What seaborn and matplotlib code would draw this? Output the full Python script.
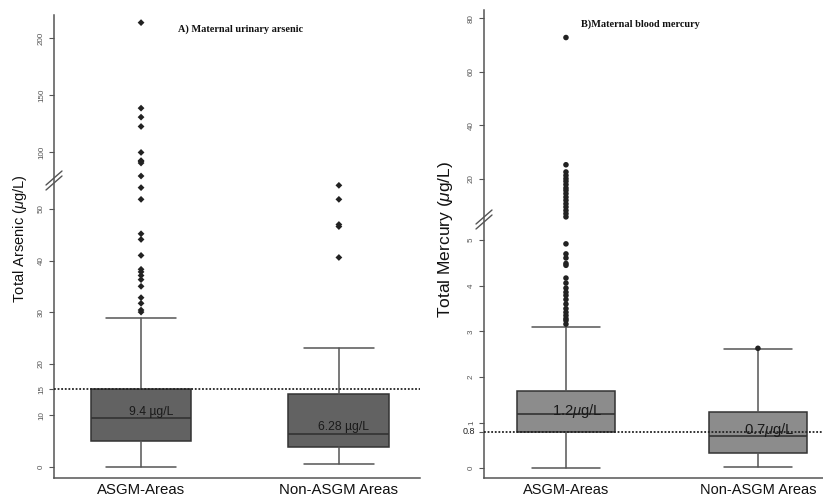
import numpy as np
import matplotlib
matplotlib.use("Agg")
import matplotlib.pyplot as plt
from matplotlib.lines import Line2D
import seaborn as sns

# ---- data -------------------------------------------------------------
groups = ["ASGM-Areas", "Non-ASGM Areas"]

# Panel A: maternal urinary arsenic (µg/L)
as_whislo = [0.0, 0.5]
as_q1 = [5.0, 3.9]
as_med = [9.4, 6.28]
as_q3 = [15.0, 14.1]
as_whishi = [28.9, 23.1]
as_out_asgm = [213.7, 138.6, 130.7, 122.5, 99.7, 92.5, 91.8, 90.4, 79.0,
               68.8, 58.5, 45.2, 44.1, 41.0, 38.3, 37.8, 37.1, 36.3, 35.0,
               32.8, 31.7, 30.4, 30.0]
as_out_non = [70.8, 58.5, 47.0, 46.6, 40.6]
as_ticks = [0, 10, 15, 20, 30, 40, 50, 100, 150, 200]
as_ref = 15
as_labels = ["9.4 µg/L", "6.28 µg/L"]

# Panel B: maternal blood mercury (µg/L)
hg_whislo = [0.0, 0.02]
hg_q1 = [0.79, 0.33]
hg_med = [1.2, 0.7]
hg_q3 = [1.70, 1.24]
hg_whishi = [3.1, 2.62]
hg_out_asgm = [72.8, 25.2, 22.5, 21.2, 20.0, 19.0, 17.8, 16.5, 15.6, 14.4,
               13.1, 11.9, 10.6, 9.4, 8.1, 6.9, 5.7, 4.92, 4.70, 4.61, 4.49,
               4.45, 4.17, 4.06, 3.95, 3.86, 3.79, 3.70, 3.60, 3.50, 3.42,
               3.35, 3.28, 3.24, 3.16]
hg_out_non = [2.63]
hg_ticks = [0, 0.8, 1, 2, 3, 4, 5, 20, 40, 60, 80]
hg_ref = 0.8
hg_labels = [r"1.2$\mu$g/L", r"0.7$\mu$g/L"]

# ---- style ------------------------------------------------------------
sns.set_theme(style="white")
plt.rcParams["font.family"] = ["Liberation Sans", "DejaVu Sans"]
plt.rcParams["mathtext.fontset"] = "custom"
plt.rcParams["mathtext.it"] = "Liberation Sans:italic"
plt.rcParams["mathtext.rm"] = "Liberation Sans"

AXIS_GREY = "#555555"


def broken_scale(knee, ratio):
    """Piecewise-linear y scale: compressed above `knee`."""
    def fwd(v):
        v = np.asarray(v, dtype=float)
        return np.where(v <= knee, v, knee + (v - knee) * ratio)

    def inv(t):
        t = np.asarray(t, dtype=float)
        return np.where(t <= knee, t, knee + (t - knee) / ratio)
    return fwd, inv


def draw_panel(ax, stats, fliers, color, marker, msize, ref, ticks,
               med_labels, label_pos, label_size, title, title_x, ylabel,
               ylabel_size):
    ax.bxp(stats, positions=[0, 1], widths=0.51, capwidths=0.35,
           patch_artist=True, showfliers=False,
           boxprops=dict(facecolor=color, edgecolor="#333333", linewidth=1.1),
           medianprops=dict(color="#333333", linewidth=1.2),
           whiskerprops=dict(color=AXIS_GREY, linewidth=1.1),
           capprops=dict(color=AXIS_GREY, linewidth=1.1))
    for pos, vals in enumerate(fliers):
        sns.scatterplot(x=[pos] * len(vals), y=vals, ax=ax, marker=marker,
                        s=msize, color="#222222", edgecolor="none",
                        legend=False, zorder=4)
    ax.axhline(ref, color="#222222", linestyle=(0, (1, 1)), linewidth=1.3,
               zorder=5)
    for (x, y), txt in zip(label_pos, med_labels):
        ax.text(x, y, txt, ha="center", va="center", fontsize=label_size,
                color="#1a1a1a", zorder=6)

    ax.set_yticks(ticks)
    ax.set_yticklabels([f"{t:g}" for t in ticks])
    ax.tick_params(axis="y", direction="out", length=3.5, width=0.8,
                   color=AXIS_GREY, labelcolor=AXIS_GREY, labelsize=5.8,
                   pad=3, left=True)
    for lab in ax.get_yticklabels():
        if lab.get_text() == "0.8":
            lab.set_rotation(0)
            lab.set_va("center")
            lab.set_ha("right")
            lab.set_color("#222222")
            lab.set_fontsize(6.5)
        else:
            lab.set_rotation(90)
            lab.set_va("center")
    ax.set_xticks([0, 1])
    ax.set_xticklabels(groups)
    ax.tick_params(axis="x", length=0, pad=3.5, labelcolor="#111111")
    for s in ["top", "right"]:
        ax.spines[s].set_visible(False)
    for s in ["left", "bottom"]:
        ax.spines[s].set_color(AXIS_GREY)
        ax.spines[s].set_linewidth(1.1)
    ax.set_ylabel(ylabel, fontsize=ylabel_size, color="#111111")
    ax.text(title_x, 0.97, title, transform=ax.transAxes, ha="center",
            va="center", fontsize=7.4, fontweight="bold",
            family="Liberation Serif", color="#111111")
    ax.grid(False)


def break_marks(fig, cx, cy):
    W, H = fig.get_size_inches() * fig.dpi
    for off in (0, 5):
        x0, y0 = cx - 8, cy + 7 - off
        x1, y1 = cx + 8, cy - 7 - off
        fig.add_artist(Line2D([x0 / W, x1 / W], [1 - y0 / H, 1 - y1 / H],
                              transform=fig.transFigure, color=AXIS_GREY,
                              linewidth=1.0))


fig = plt.figure(figsize=(8.23, 5.0), dpi=100)

# ---- panel A ----------------------------------------------------------
axA = fig.add_axes([54 / 823, 0.044, (420 - 54) / 823, 0.926])
axA.set_yscale("function", functions=broken_scale(50, 0.221))
statsA = [dict(med=as_med[i], q1=as_q1[i], q3=as_q3[i],
               whislo=as_whislo[i], whishi=as_whishi[i]) for i in range(2)]
draw_panel(axA, statsA, [as_out_asgm, as_out_non], "#626262", "D", 12,
           as_ref, as_ticks, as_labels, [(0.05, 10.7), (1.025, 7.75)], 8.7,
           "A) Maternal urinary arsenic", 0.51,
           r"Total Arsenic ($\mu$g/L)", 10.5)
axA.set_ylim(-2.2, 220.4)
axA.set_xlim(-0.44, 1.41)
axA.yaxis.set_label_coords(-0.068, 0.516)
for lab in axA.get_xticklabels():
    lab.set_fontsize(10.8)

# ---- panel B ----------------------------------------------------------
axB = fig.add_axes([484 / 823, 0.0434, (823 - 484) / 823, 0.9366])
axB.set_yscale("function", functions=broken_scale(5.5, 0.0586))
statsB = [dict(med=hg_med[i], q1=hg_q1[i], q3=hg_q3[i],
               whislo=hg_whislo[i], whishi=hg_whishi[i]) for i in range(2)]
draw_panel(axB, statsB, [hg_out_asgm, hg_out_non], "#8c8c8c", "o", 16,
           hg_ref, hg_ticks, hg_labels, [(0.06, 1.26), (1.06, 0.84)], 10.6,
           "B)Maternal blood mercury", 0.46,
           r"Total Mercury ($\mu$g/L)", 12.5)
axB.set_ylim(-0.22, 83.1)
axB.set_xlim(-0.427, 1.339)
axB.yaxis.set_label_coords(-0.086, 0.511)
for lab in axB.get_xticklabels():
    lab.set_fontsize(10.5)

break_marks(fig, 54, 183)
break_marks(fig, 484, 222)

fig.savefig("out.png", dpi=100)
